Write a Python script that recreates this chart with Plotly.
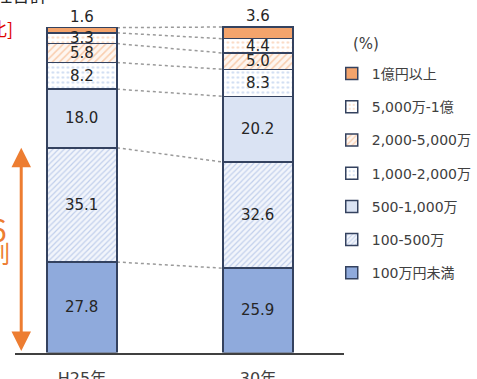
import plotly.graph_objects as go

categories = ["H25年", "30年"]
series_names = ["100万円未満", "100-500万", "500-1,000万", "1,000-2,000万",
                "2,000-5,000万", "5,000万-1億", "1億円以上"]
h25_values = [27.8, 35.1, 18.0, 8.2, 5.8, 3.3, 1.6]
h30_values = [25.9, 32.6, 20.2, 8.3, 5.0, 4.4, 3.6]

colors = ["#8FAADC", "#8FAADC", "#DAE3F3", "#9DB9E3", "#F4A46C", "#F4B183", "#F4A46C"]
patterns = [
    dict(shape=""),
    dict(shape="/", fgcolor="#8FAADC", bgcolor="#F2F5FB", size=4, solidity=0.3),
    dict(shape=""),
    dict(shape=".", fgcolor="#9DB9E3", bgcolor="#FFFFFF", size=5, solidity=0.2),
    dict(shape="/", fgcolor="#F4A46C", bgcolor="#FEF6F0", size=5, solidity=0.3),
    dict(shape=".", fgcolor="#F4B183", bgcolor="#FFFFFF", size=5, solidity=0.2),
    dict(shape=""),
]

W, H = 477, 379
xpos = [0, 1]
bar_w = 0.397
NUM_FONT = "DejaVu Sans, Noto Sans CJK JP"

fig = go.Figure()
for i, name in enumerate(series_names):
    marker = dict(color=colors[i], line=dict(color="#34425F", width=1.5))
    if patterns[i]["shape"]:
        marker["pattern"] = patterns[i]
    fig.add_trace(go.Bar(
        x=xpos, y=[h25_values[i], h30_values[i]], name=name,
        width=bar_w, marker=marker, legendgroup=name,
        legendrank=len(series_names) - i, hoverinfo="skip"))

def cumulative(vals):
    out, s = [], 0
    for v in vals:
        s += v
        out.append(s)
    return out

c25 = cumulative(h25_values)
c30 = cumulative(h30_values)

# dotted connector lines
for a, b in zip(c25, c30):
    fig.add_shape(type="line", xref="x", yref="y",
                  x0=xpos[0] + bar_w / 2, y0=a, x1=xpos[1] - bar_w / 2, y1=b,
                  line=dict(color="#9A9A9A", width=1.5, dash="dot"), layer="below")

# value labels
for vals, cum, xp in ((h25_values, c25, xpos[0]), (h30_values, c30, xpos[1])):
    for k, v in enumerate(vals):
        if k == len(vals) - 1:
            fig.add_annotation(x=xp, y=cum[k], xref="x", yref="y", text=f"{v:.1f}",
                               showarrow=False, yanchor="bottom",
                               font=dict(size=15, color="#262626", family=NUM_FONT))
        else:
            fig.add_annotation(x=xp, y=cum[k] - v / 2, xref="x", yref="y", text=f"{v:.1f}",
                               showarrow=False,
                               font=dict(size=15, color="#262626", family=NUM_FONT))

# orange double arrow for bottom two segments
arrow_x = (22 - 85) / 182.5
fig.add_annotation(x=arrow_x, y=c25[1], ax=arrow_x, ay=0, xref="x", yref="y",
                   axref="x", ayref="y", showarrow=True, text="",
                   arrowhead=2, arrowside="end+start", arrowsize=1.3, arrowwidth=3,
                   arrowcolor="#ED7D31")

# cropped side texts
fig.add_annotation(x=9 / W, y=1 - 228 / H, xref="paper", yref="paper", text="6",
                   showarrow=False, xanchor="right", font=dict(size=32, color="#ED7D31",
                   family="Noto Sans CJK JP"))
fig.add_annotation(x=12 / W, y=1 - 272 / H, xref="paper", yref="paper", text="割",
                   showarrow=False, xanchor="right", font=dict(size=24, color="#ED7D31",
                   family="Noto Sans CJK JP"))
fig.add_annotation(x=16 / W, y=1 - 13 / H, xref="paper", yref="paper", text="[構成比]",
                   showarrow=False, xanchor="right", font=dict(size=18, color="#E00000",
                   family="Noto Sans CJK JP"))
fig.add_annotation(x=52 / W, y=1 - (-21) / H, xref="paper", yref="paper", text="全社合計",
                   showarrow=False, xanchor="right", font=dict(size=18, color="#262626",
                   family="Noto Sans CJK JP"))
fig.add_annotation(x=395 / W, y=1 - 33 / H, xref="paper", yref="paper", text="(%)",
                   showarrow=False, font=dict(size=15, color="#404040", family=NUM_FONT))

fig.update_layout(
    width=W, height=H, margin=dict(l=0, r=0, t=0, b=0),
    barmode="stack", plot_bgcolor="white", paper_bgcolor="white",
    showlegend=True,
    legend=dict(x=344 / W, y=1 - 58 / H, xanchor="left", yanchor="top",
                traceorder="grouped", tracegroupgap=12, itemwidth=30,
                font=dict(size=14, color="#404040", family=NUM_FONT),
                bgcolor="rgba(0,0,0,0)"),
    xaxis=dict(domain=[16 / W, 357 / W], range=[(16 - 85) / 182.5, (357 - 85) / 182.5],
               tickvals=xpos, ticktext=categories, showline=True, linecolor="#404040",
               linewidth=2, showgrid=False, zeroline=False, ticks="", automargin=False,
               tickfont=dict(size=16, color="#404040", family=NUM_FONT),
               ticklabelstandoff=10),
    yaxis=dict(domain=[1 - 352.5 / H, 1], range=[0, 352.5 / 3.255], visible=False,
               automargin=False, fixedrange=True),
)

fig.write_html("out.html")
